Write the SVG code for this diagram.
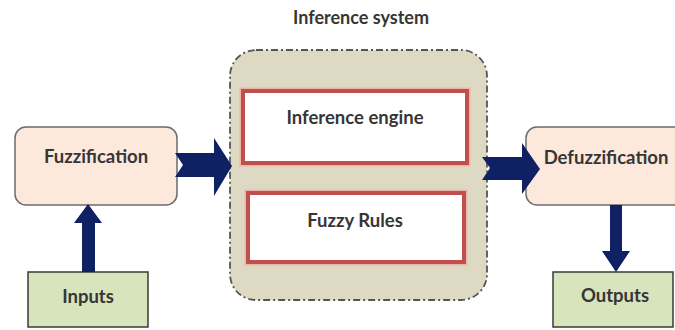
<svg xmlns="http://www.w3.org/2000/svg" width="675" height="330" viewBox="0 0 675 330">
  <style>
    .lbl { font-family: Lato, "Open Sans", "Liberation Sans", sans-serif; font-weight: bold; fill: #363636; text-anchor: middle; dominant-baseline: central; font-size: 18.5px; }
    .proc { fill: #fce9dc; stroke: #6b6b6b; stroke-width: 1.5; }
    .io { fill: #d8e4bc; stroke: #3a3a3a; stroke-width: 1.5; }
    .halo { fill: none; stroke: #eab5aa; stroke-width: 7; }
    .sub { fill: #ffffff; stroke: #c0504d; stroke-width: 4; }
    .arrow { fill: #0f2163; }
  </style>
  <rect width="675" height="330" fill="#ffffff"/>

  <g id="inference-system">
    <rect x="230" y="50" width="257" height="250" rx="26" fill="#ddd9c3" stroke="#555" stroke-width="1.8" stroke-dasharray="7 3 2 3"/>
    <text class="lbl" x="361" y="17" style="font-size:18px">Inference system</text>
  </g>

  <g id="inference-engine">
    <rect class="halo" x="243" y="91" width="224" height="72"/>
    <rect class="sub" x="243" y="91" width="224" height="72"/>
    <text class="lbl" x="355" y="117">Inference engine</text>
  </g>

  <g id="fuzzy-rules">
    <rect class="halo" x="248" y="193" width="216" height="69"/>
    <rect class="sub" x="248" y="193" width="216" height="69"/>
    <text class="lbl" x="355" y="220">Fuzzy Rules</text>
  </g>

  <g id="fuzzification">
    <rect class="proc" x="15" y="127" width="162" height="78" rx="11"/>
    <text class="lbl" x="96" y="156">Fuzzification</text>
  </g>

  <g id="defuzzification">
    <rect class="proc" x="526" y="127" width="160" height="78" rx="11"/>
    <text class="lbl" x="606" y="157">Defuzzification</text>
  </g>

  <g id="inputs">
    <rect class="io" x="28" y="272" width="120" height="55"/>
    <text class="lbl" x="88" y="296">Inputs</text>
  </g>

  <g id="outputs">
    <rect class="io" x="553" y="272" width="120" height="55"/>
    <text class="lbl" x="615" y="295">Outputs</text>
  </g>

  <g id="connectors">
    <!-- Fuzzification to inference system -->
    <polygon class="arrow" points="175,153 214,153 214,138 232,166 214,196 214,177 175,177 183,165"/>
    <!-- inference system to Defuzzification -->
    <polygon class="arrow" points="482,157 522,157 522,143 540,169 522,194 522,180 482,180 490,168"/>
    <!-- Inputs up to Fuzzification -->
    <polygon class="arrow" points="82,272 82,223 74,223 88,204 102,223 95,223 95,272"/>
    <!-- Defuzzification down to Outputs -->
    <polygon class="arrow" points="610,205 622,205 622,251 630,251 616,272 602,251 610,251"/>
  </g>
</svg>
